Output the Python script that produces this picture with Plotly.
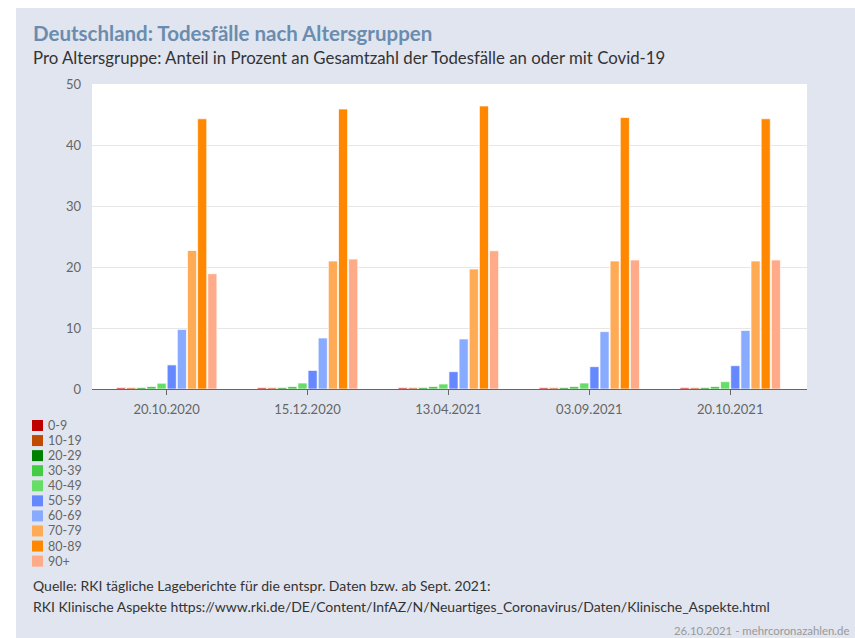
import plotly.graph_objects as go

# ---------------- data ----------------
dates = ["20.10.2020", "15.12.2020", "13.04.2021", "03.09.2021", "20.10.2021"]
age_groups = ["0-9", "10-19", "20-29", "30-39", "40-49",
              "50-59", "60-69", "70-79", "80-89", "90+"]
v_0_9 = [0.2, 0.2, 0.2, 0.2, 0.2]
v_10_19 = [0.2, 0.2, 0.2, 0.2, 0.2]
v_20_29 = [0.2, 0.2, 0.2, 0.2, 0.2]
v_30_39 = [0.4, 0.4, 0.4, 0.4, 0.4]
v_40_49 = [0.95, 0.98, 0.82, 0.98, 1.2]
v_50_59 = [3.95, 3.05, 2.84, 3.66, 3.82]
v_60_69 = [9.77, 8.36, 8.2, 9.4, 9.6]
v_70_79 = [22.7, 20.98, 19.67, 20.98, 20.98]
v_80_89 = [44.3, 45.9, 46.4, 44.5, 44.3]
v_90plus = [18.9, 21.3, 22.67, 21.15, 21.15]
series_values = [v_0_9, v_10_19, v_20_29, v_30_39, v_40_49,
                 v_50_59, v_60_69, v_70_79, v_80_89, v_90plus]
colors = ["#c00000", "#c04a00", "#008000", "#44cc44", "#66dd66",
          "#6688ff", "#88aaff", "#ffaa55", "#ff8800", "#ffaa88"]

title = "Deutschland: Todesfälle nach Altersgruppen"
subtitle = "Pro Altersgruppe: Anteil in Prozent an Gesamtzahl der Todesfälle an oder mit Covid-19"
source1 = "Quelle: RKI tägliche Lageberichte für die entspr. Daten bzw. ab Sept. 2021:"
source2 = "RKI Klinische Aspekte https://www.rki.de/DE/Content/InfAZ/N/Neuartiges_Coronavirus/Daten/Klinische_Aspekte.html"
credit = "26.10.2021 - mehrcoronazahlen.de"

# ---------------- layout geometry ----------------
W, H = 855, 638
L, R, T, B = 92, 807, 84, 389  # plot area in px


def px(x):
    return (x - L) / (R - L)


def py(y):
    return (B - y) / (B - T)


FONT = "Lato, 'Open Sans', sans-serif"
BG = "#e1e5ef"

fig = go.Figure()
for name, vals, col in zip(age_groups, series_values, colors):
    fig.add_trace(go.Bar(
        x=dates, y=vals, name=name,
        marker=dict(color=col, line=dict(color="rgba(255,255,255,0.7)", width=1)),
        showlegend=False,
    ))

shapes = [
    dict(type="rect", xref="paper", yref="paper", x0=px(0), x1=px(W), y0=py(0), y1=py(8),
         fillcolor="white", line=dict(width=0), layer="below"),
    dict(type="rect", xref="paper", yref="paper", x0=px(0), x1=px(16), y0=py(0), y1=py(H),
         fillcolor="white", line=dict(width=0), layer="below"),
]
annotations = [
    dict(text=title, x=px(31), y=py(33), xref="paper", yref="paper", xanchor="left",
         yanchor="middle", showarrow=False,
         font=dict(family=FONT, size=20.5, color="#6a8cae", weight="bold")),
    dict(text=subtitle, x=px(31), y=py(57), xref="paper", yref="paper", xanchor="left",
         yanchor="middle", showarrow=False,
         font=dict(family=FONT, size=16.8, color="#333333")),
    dict(text=source1, x=px(31), y=py(585), xref="paper", yref="paper", xanchor="left",
         yanchor="middle", showarrow=False,
         font=dict(family=FONT, size=14, color="#333333")),
    dict(text=source2, x=px(31), y=py(606), xref="paper", yref="paper", xanchor="left",
         yanchor="middle", showarrow=False,
         font=dict(family=FONT, size=14, color="#333333")),
    dict(text=credit, x=px(851), y=py(630), xref="paper", yref="paper", xanchor="right",
         yanchor="middle", showarrow=False,
         font=dict(family=FONT, size=11.4, color="#999999")),
]

# manual legend (compact spacing like the original)
for i, (name, col) in enumerate(zip(age_groups, colors)):
    cy = 425.5 + i * 15.07
    shapes.append(dict(type="rect", xref="paper", yref="paper",
                       x0=px(32), x1=px(43), y0=py(cy - 5.5), y1=py(cy + 5.5),
                       fillcolor=col, line=dict(width=0)))
    annotations.append(dict(text=name, x=px(46), y=py(cy), xref="paper", yref="paper",
                            xanchor="left", yanchor="middle", showarrow=False,
                            font=dict(family=FONT, size=12.5, color="#666666")))

fig.update_layout(
    width=W, height=H,
    margin=dict(l=L, r=W - R, t=T, b=H - B, pad=0),
    paper_bgcolor=BG, plot_bgcolor="white",
    barmode="group", bargap=0.28, bargroupgap=0.1,
    font=dict(family=FONT, size=12, color="#666666"),
    showlegend=False,
    shapes=shapes, annotations=annotations,
    xaxis=dict(type="category", range=[-0.53, 4.545], showline=True, linecolor="#666666",
               linewidth=1, ticks="outside", ticklen=5, tickcolor="#666666",
               showgrid=False, tickfont=dict(family=FONT, size=13, color="#666666"),
               ticklabelstandoff=3),
    yaxis=dict(range=[0, 50], dtick=10, showgrid=True, gridcolor="#e6e6e6", gridwidth=1,
               zeroline=False, showline=False, ticks="",
               tickfont=dict(family=FONT, size=13, color="#666666"),
               ticklabelstandoff=10),
)

fig.write_html("out.html", config={"displayModeBar": False},
               post_script="document.body.style.margin='0';")
